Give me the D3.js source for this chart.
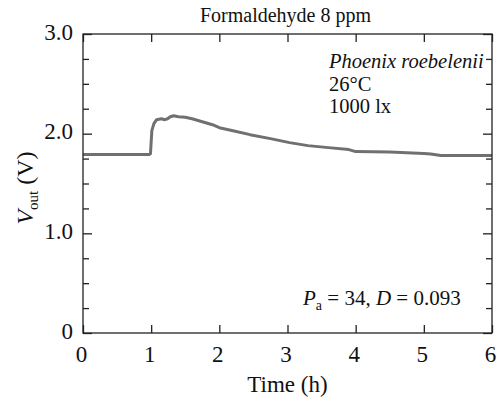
<!DOCTYPE html>
<html><head><meta charset="utf-8">
<script src="https://cdn.jsdelivr.net/npm/d3@7"></script>
<style>
html,body{margin:0;padding:0;background:#fff;}
</style></head>
<body><svg id="c" width="497" height="401"></svg>
<script>
const timeH = [0, 0.97, 0.99, 1.01, 1.04, 1.08, 1.15, 1.20, 1.24, 1.28, 1.33, 1.40, 1.50, 1.60, 1.75, 1.90, 2.00, 2.20, 2.45, 2.75, 3.03, 3.30, 3.60, 3.90, 4.00, 4.50, 5.00, 5.10, 5.25, 5.50, 6.00];
const vout  = [1.79, 1.79, 1.80, 2.03, 2.10, 2.14, 2.15, 2.14, 2.15, 2.17, 2.18, 2.17, 2.165, 2.15, 2.12, 2.09, 2.06, 2.03, 1.99, 1.95, 1.91, 1.88, 1.86, 1.84, 1.82, 1.815, 1.80, 1.795, 1.78, 1.78, 1.78];
const xTicks = [0, 1, 2, 3, 4, 5, 6];
const yTicks = [0, 1, 2, 3];
const yTickLabels = ["0", "1.0", "2.0", "3.0"];
const yMinorTicks = [0.25, 0.5, 0.75, 1.25, 1.5, 1.75, 2.25, 2.5, 2.75];
const titleText = "Formaldehyde 8 ppm";
const noteLines = ["Phoenix roebelenii", "26°C", "1000 lx"];

const FONT = "'Liberation Serif'";
const svg = d3.select("#c");
const L = 83, R = 492, T = 34, B = 333;
const x = d3.scaleLinear().domain([0, 6]).range([L, R]);
const y = d3.scaleLinear().domain([0, 3]).range([B, T]);

// line
const line = d3.line().x((d,i)=>x(timeH[i])).y(d=>y(d));
svg.append("path").datum(vout).attr("d", line)
  .attr("fill","none").attr("stroke","#707070").attr("stroke-width",3)
  .attr("stroke-linejoin","round");

// frame
svg.append("rect").attr("x",L).attr("y",T).attr("width",R-L).attr("height",B-T)
  .attr("fill","none").attr("stroke","#222").attr("stroke-width",1.3);

// axes with inward ticks
const axB = d3.axisBottom(x).tickValues(xTicks).tickSize(-8).tickPadding(12.5).tickFormat(d3.format("d"));
const axT = d3.axisTop(x).tickValues(xTicks).tickSize(-8).tickFormat("");
const axL = d3.axisLeft(y).tickValues(yTicks).tickSize(-9).tickPadding(10).tickFormat((d,i)=>yTickLabels[i]);
const axR = d3.axisRight(y).tickValues(yTicks).tickSize(-9).tickFormat("");
const axLm = d3.axisLeft(y).tickValues(yMinorTicks).tickSize(-6).tickFormat("");
const axRm = d3.axisRight(y).tickValues(yMinorTicks).tickSize(-6).tickFormat("");

function style(g){
  g.attr("font-family", null).attr("font-size", null);
  g.select(".domain").remove();
  g.selectAll(".tick line").attr("stroke","#222").attr("stroke-width",1.3);
  g.selectAll(".tick text").style("font-family",FONT).attr("fill","#111");
}
svg.append("g").attr("transform",`translate(0,${B})`).call(axB).call(style)
  .selectAll(".tick text").style("font-size","23px").attr("dx",-2);
svg.append("g").attr("transform",`translate(0,${T})`).call(axT).call(style);
svg.append("g").attr("transform",`translate(${L},0)`).call(axL).call(style)
  .selectAll(".tick text").style("font-size","23px").attr("dy","0.22em");
svg.append("g").attr("transform",`translate(${R},0)`).call(axR).call(style);
svg.append("g").attr("transform",`translate(${L},0)`).call(axLm).call(style);
svg.append("g").attr("transform",`translate(${R},0)`).call(axRm).call(style);

// title
svg.append("text").attr("x",(L+R)/2 - 2).attr("y",22).attr("text-anchor","middle")
  .style("font-family",FONT).style("font-size","20px").attr("fill","#111").text(titleText);

// x label
svg.append("text").attr("x",(L+R)/2).attr("y",392).attr("text-anchor","middle")
  .style("font-family",FONT).style("font-size","23px").attr("fill","#111").text("Time (h)");

// y label
const yl = svg.append("text").attr("transform","translate(33,188) rotate(-90)")
  .attr("text-anchor","middle").style("font-family",FONT).style("font-size","24px").attr("fill","#111");
yl.append("tspan").style("font-style","italic").text("V");
yl.append("tspan").style("font-size","15px").attr("dy",5).text("out");
yl.append("tspan").attr("dy",-5).text(" (V)");

// notes
const nx = 329, ny = [68, 91, 113];
noteLines.forEach((s,i)=>{
  svg.append("text").attr("x",nx).attr("y",ny[i])
    .style("font-family",FONT).style("font-size","20.5px").attr("fill","#111")
    .style("font-style", i===0 ? "italic" : "normal").text(s);
});

// Pa, D
const pt = svg.append("text").attr("x",303).attr("y",305)
  .style("font-family",FONT).style("font-size","21px").attr("fill","#111");
pt.append("tspan").style("font-style","italic").text("P");
pt.append("tspan").style("font-size","14px").attr("dy",5).text("a");
pt.append("tspan").attr("dy",-5).text(" = 34, ");
pt.append("tspan").style("font-style","italic").text("D");
pt.append("tspan").text(" = 0.093");
</script></body></html>
